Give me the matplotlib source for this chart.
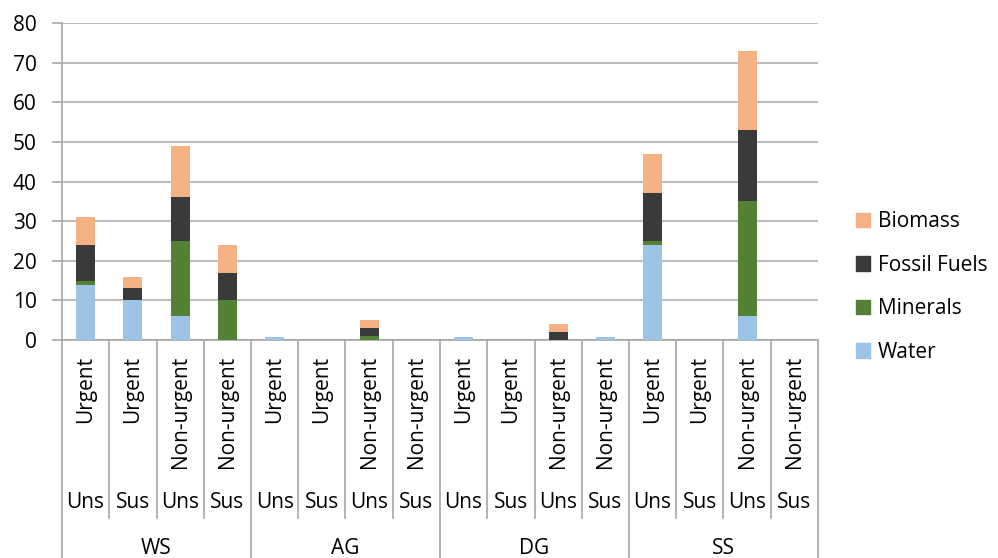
import matplotlib
matplotlib.use("Agg")
import matplotlib.pyplot as plt
import matplotlib.transforms as mtransforms
from matplotlib.patches import Patch

plt.rcParams['font.family'] = ['Open Sans', 'DejaVu Sans']

groups = ["WS", "AG", "DG", "SS"]
sus_labels = ["Uns", "Sus", "Uns", "Sus"]
urg_labels = ["Urgent", "Urgent", "Non-urgent", "Non-urgent"]

water    = [14, 10, 6, 0,   0.8, 0, 0, 0,   0.8, 0, 0, 0.8,   24, 0, 6, 0]
minerals = [1, 0, 19, 10,   0, 0, 1, 0,     0, 0, 0, 0,       1, 0, 29, 0]
fossil   = [9, 3, 11, 7,    0, 0, 2, 0,     0, 0, 2, 0,       12, 0, 18, 0]
biomass  = [7, 3, 13, 7,    0, 0, 2, 0,     0, 0, 2, 0,       10, 0, 20, 0]

series = [("Water", water, "#9DC3E6"),
          ("Minerals", minerals, "#548235"),
          ("Fossil Fuels", fossil, "#3A3A3A"),
          ("Biomass", biomass, "#F4B183")]

FS = 15
W, H = 998, 558
fig = plt.figure(figsize=(W / 100, H / 100), dpi=100)
left, right, top, bottom = 62, 818, 23, 340
ax = fig.add_axes([left / W, 1 - bottom / H, (right - left) / W, (bottom - top) / H])

n = len(water)
x = list(range(n))
base = [0] * n
for name, vals, col in series:
    ax.bar(x, vals, width=0.4, bottom=base, color=col, label=name, zorder=3)
    base = [b + v for b, v in zip(base, vals)]

lc = "#A6A6A6"
ax.set_xlim(-0.5, n - 0.5)
ax.set_ylim(0, 80)
ax.set_yticks(range(0, 81, 10))
ax.tick_params(axis='y', length=7.2, width=1.2, color=lc, labelsize=FS, pad=11)
ax.set_xticks([])
ax.yaxis.grid(True, color="#B0B0B0", linewidth=1.2, zorder=0)
for s in ["top", "right"]:
    ax.spines[s].set_visible(False)
ax.spines["left"].set_color(lc)
ax.spines["left"].set_linewidth(1.2)
ax.spines["bottom"].set_color(lc)
ax.spines["bottom"].set_linewidth(1.2)

axh = bottom - top
def yf(ypx):
    return (bottom - ypx) / axh

trans = mtransforms.blended_transform_factory(ax.transData, ax.transAxes)
for i in range(n + 1):
    xpos = i - 0.5
    y_end = 558 if i % 4 == 0 else 518
    ax.plot([xpos, xpos], [0, yf(y_end)], transform=trans, color=lc,
            linewidth=1.2, clip_on=False, zorder=1)

for i in range(n):
    ax.text(i, yf(356), urg_labels[i % 4], transform=trans, rotation=90,
            ha='center', va='top', fontsize=FS)
    ax.text(i, yf(503), sus_labels[i % 4], transform=trans,
            ha='center', va='center', fontsize=FS)
for g, name in enumerate(groups):
    ax.text(g * 4 + 1.5, yf(548), name, transform=trans,
            ha='center', va='center', fontsize=FS)

handles = [Patch(color=col, label=name) for name, vals, col in series][::-1]
fig.legend(handles=handles, loc='center left', bbox_to_anchor=(837 / W, 1 - 287 / H),
           frameon=False, fontsize=FS, handlelength=0.67, handleheight=0.67,
           handletextpad=0.4, labelspacing=1.08)

fig.savefig("out.png", dpi=100)
